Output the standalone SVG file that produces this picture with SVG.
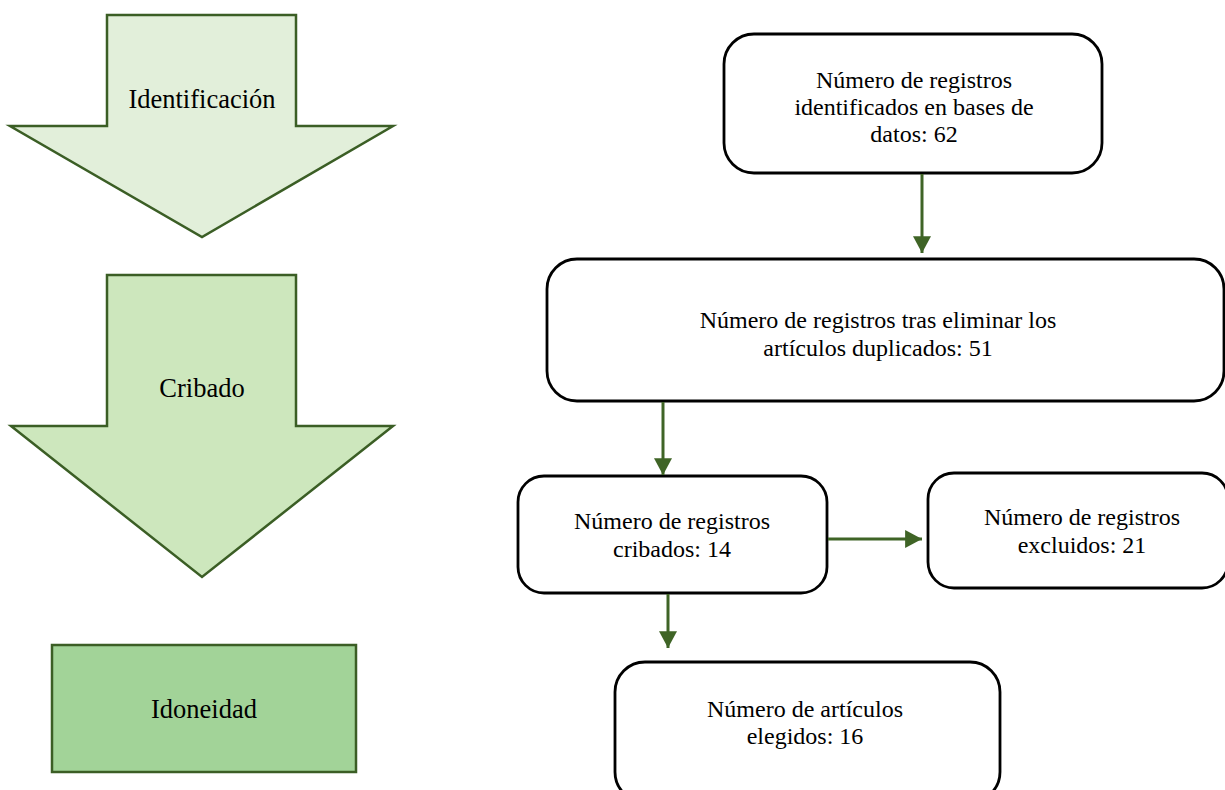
<svg xmlns="http://www.w3.org/2000/svg" width="1225" height="790" viewBox="0 0 1225 790">
  <style>
    .stage { stroke: #3B5E25; stroke-width: 2.5; stroke-linejoin: miter; }
    .box { fill: #fff; stroke: #000; stroke-width: 2.8; }
    .conn { stroke: #3F6426; stroke-width: 3; fill: none; }
  </style>
  <defs>
    <marker id="ah" markerUnits="userSpaceOnUse" markerWidth="18" markerHeight="18" viewBox="0 0 16 16" refX="15" refY="8" orient="auto">
      <path d="M0,0 L15,8 L0,16 Z" fill="#3F6426"/>
    </marker>
  </defs>

  <g id="stage-identificacion">
    <path class="stage" fill="#E2EFDA" d="M107,15 L296,15 L296,126 L393,126 L202,237 L10,126 L107,126 Z"/>
    <text x="202" y="108" font-family="Liberation Serif, Tinos, DejaVu Serif, serif" font-size="26.5" text-anchor="middle" fill="#000">Identificación</text>
  </g>
  <g id="stage-cribado">
    <path class="stage" fill="#CDE7BD" d="M107,275 L296,275 L296,426 L393,426 L202,577 L11,426 L107,426 Z"/>
    <text x="202" y="397" font-family="Liberation Serif, Tinos, DejaVu Serif, serif" font-size="26.5" text-anchor="middle" fill="#000">Cribado</text>
  </g>
  <g id="stage-idoneidad">
    <rect class="stage" fill="#A2D398" x="52" y="645" width="304" height="127"/>
    <text x="204" y="718" font-family="Liberation Serif, Tinos, DejaVu Serif, serif" font-size="26.5" text-anchor="middle" fill="#000">Idoneidad</text>
  </g>

  <g id="node-identificados">
    <rect class="box" x="724" y="34" width="378" height="139" rx="30"/>
    <text font-family="Liberation Serif, Tinos, DejaVu Serif, serif" font-size="24" text-anchor="middle" fill="#000"><tspan x="914" y="88">Número de registros</tspan><tspan x="914" y="115">identificados en bases de</tspan><tspan x="914" y="142">datos: 62</tspan></text>
  </g>
  <g id="node-sin-duplicados">
    <rect class="box" x="547" y="259" width="677" height="142" rx="30"/>
    <text font-family="Liberation Serif, Tinos, DejaVu Serif, serif" font-size="24" text-anchor="middle" fill="#000"><tspan x="878" y="328">Número de registros tras eliminar los</tspan><tspan x="878" y="356">artículos duplicados: 51</tspan></text>
  </g>
  <g id="node-cribados">
    <rect class="box" x="518" y="476" width="309" height="117" rx="26"/>
    <text font-family="Liberation Serif, Tinos, DejaVu Serif, serif" font-size="24" text-anchor="middle" fill="#000"><tspan x="672" y="529">Número de registros</tspan><tspan x="672" y="557">cribados: 14</tspan></text>
  </g>
  <g id="node-excluidos">
    <rect class="box" x="928" y="473" width="300" height="115" rx="26"/>
    <text font-family="Liberation Serif, Tinos, DejaVu Serif, serif" font-size="24" text-anchor="middle" fill="#000"><tspan x="1082" y="525">Número de registros</tspan><tspan x="1082" y="553">excluidos: 21</tspan></text>
  </g>
  <g id="node-elegidos">
    <rect class="box" x="615" y="662" width="385" height="140" rx="30"/>
    <text font-family="Liberation Serif, Tinos, DejaVu Serif, serif" font-size="24" text-anchor="middle" fill="#000"><tspan x="805" y="717">Número de artículos</tspan><tspan x="805" y="744">elegidos: 16</tspan></text>
  </g>

  <g id="connectors">
    <line class="conn" x1="922" y1="174" x2="922" y2="253" marker-end="url(#ah)"/>
    <line class="conn" x1="663" y1="402" x2="663" y2="475" marker-end="url(#ah)"/>
    <line class="conn" x1="828" y1="539" x2="922" y2="539" marker-end="url(#ah)"/>
    <line class="conn" x1="668" y1="594" x2="668" y2="648" marker-end="url(#ah)"/>
  </g>
</svg>
